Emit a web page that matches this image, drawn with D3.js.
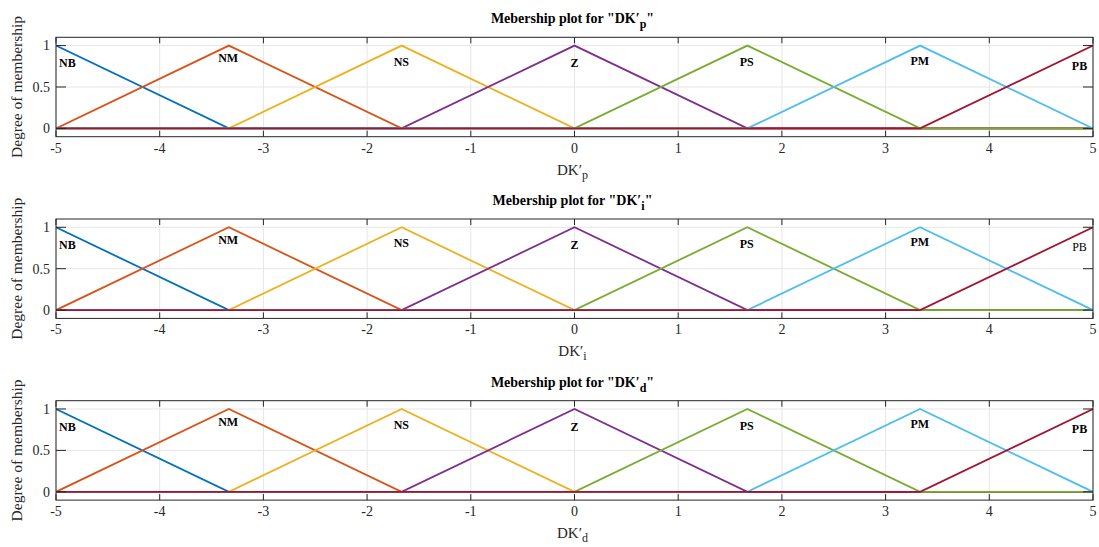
<!DOCTYPE html>
<html>
<head>
<meta charset="utf-8">
<script src="https://cdn.jsdelivr.net/npm/d3@7"></script>
<style>
  body { margin: 0; background: #fff; }
  svg text { font-family: "Palatino Linotype", Palatino, "Liberation Serif", serif; fill: #262626; }
</style>
</head>
<body>
<svg id="chart" width="1099" height="547"></svg>
<script>
// membership function data
var mfNames = ["NB", "NM", "NS", "Z", "PS", "PM", "PB"];
var mfParams = [
  [-6.667, -5, -3.333],
  [-5, -3.333, -1.667],
  [-3.333, -1.667, 0],
  [-1.667, 0, 1.667],
  [0, 1.667, 3.333],
  [1.667, 3.333, 5],
  [3.333, 5, 6.667]
];
var mfColors = ["#0072BD", "#D95319", "#EDB120", "#7E2F8E", "#77AC30", "#4DBEEE", "#A2142F"];
var labelX = [-4.89, -3.34, -1.67, 0, 1.66, 3.33, 4.87];
var labelY = [0.79, 0.85, 0.81, 0.79, 0.80, 0.82, 0.76];
var panelSubs = ["p", "i", "d"];
var pbBold = [true, false, true];
var xTicks = [-5, -4, -3, -2, -1, 0, 1, 2, 3, 4, 5];
var yTicks = [0, 0.5, 1];
var xRange = [-5, 5];
var yRange = [-0.1, 1.1];

var svg = d3.select("#chart");
var left = 56, right = 1093, panelH = 99.4;
var tops = [37.3, 219, 400.7];

var x = d3.scaleLinear().domain(xRange).range([left, right]);

function trimf(v, p) {
  var a = p[0], b = p[1], c = p[2];
  if (v <= a || v >= c) return v === b ? 1 : 0;
  if (v <= b) return (v - a) / (b - a);
  return (c - v) / (c - b);
}

panelSubs.forEach(function(sub, pi) {
  var top = tops[pi];
  var y = d3.scaleLinear().domain(yRange).range([top + panelH, top]);
  var g = svg.append("g");

  g.append("clipPath").attr("id", "clip" + pi)
    .append("rect").attr("x", left).attr("y", top).attr("width", right - left).attr("height", panelH);

  // grid
  g.append("g").selectAll("line").data(xTicks).enter().append("line")
    .attr("x1", d => x(d)).attr("x2", d => x(d))
    .attr("y1", top).attr("y2", top + panelH)
    .attr("stroke", "#e6e6e6").attr("stroke-width", 1);
  g.append("g").selectAll("line").data(yTicks).enter().append("line")
    .attr("x1", left).attr("x2", right)
    .attr("y1", d => y(d)).attr("y2", d => y(d))
    .attr("stroke", "#e6e6e6").attr("stroke-width", 1);

  // membership lines
  var line = d3.line().x(d => x(d[0])).y(d => y(d[1]));
  var lines = g.append("g").attr("clip-path", "url(#clip" + pi + ")");
  mfParams.forEach(function(p, i) {
    var pts = [xRange[0], p[0], p[1], p[2], xRange[1]]
      .filter(v => v >= xRange[0] && v <= xRange[1])
      .sort((a, b) => a - b)
      .map(v => [v, trimf(v, p)]);
    lines.append("path").datum(pts)
      .attr("d", line)
      .attr("fill", "none")
      .attr("stroke", mfColors[i])
      .attr("stroke-width", 1.8);
  });

  // labels
  g.append("g").selectAll("text").data(mfNames).enter().append("text")
    .attr("x", (d, i) => x(labelX[i]))
    .attr("y", (d, i) => y(labelY[i]))
    .attr("dy", "0.35em")
    .attr("text-anchor", "middle")
    .attr("font-size", 12)
    .attr("font-weight", (d, i) => (d === "PB" && !pbBold[pi]) ? "normal" : "bold")
    .style("fill", "#000")
    .text(d => d);

  // axes (ticks inside, box)
  var axG = g.append("g").attr("stroke", "#262626").attr("fill", "none").attr("stroke-width", 1);
  axG.append("rect").attr("x", left).attr("y", top).attr("width", right - left).attr("height", panelH);
  xTicks.forEach(function(t) {
    axG.append("line").attr("x1", x(t)).attr("x2", x(t)).attr("y1", top + panelH).attr("y2", top + panelH - 6);
    axG.append("line").attr("x1", x(t)).attr("x2", x(t)).attr("y1", top).attr("y2", top + 6);
  });
  yTicks.forEach(function(t) {
    axG.append("line").attr("x1", left).attr("x2", left + 10).attr("y1", y(t)).attr("y2", y(t));
    axG.append("line").attr("x1", right).attr("x2", right - 10).attr("y1", y(t)).attr("y2", y(t));
  });

  g.append("g").selectAll("text").data(xTicks).enter().append("text")
    .attr("x", d => x(d)).attr("y", top + panelH + 16)
    .attr("text-anchor", "middle").attr("font-size", 14)
    .text(d => d3.format("")(d).replace("−", "-"));
  g.append("g").selectAll("text").data(yTicks).enter().append("text")
    .attr("x", left - 6).attr("y", d => y(d)).attr("dy", "0.35em")
    .attr("text-anchor", "end").attr("font-size", 14)
    .text(d => d);

  // y label
  g.append("text")
    .attr("transform", "translate(22," + (top + panelH / 2) + ") rotate(-90)")
    .attr("text-anchor", "middle").attr("font-size", 15.5)
    .text("Degree of membership");

  // x label
  var xl = g.append("text")
    .attr("x", (left + right) / 2 - 2).attr("y", top + panelH + 38)
    .attr("text-anchor", "middle").attr("font-size", 15);
  xl.append("tspan").text("DK\u2032");
  xl.append("tspan").attr("dy", 4).attr("font-size", 12).text(sub);

  // title
  var tt = g.append("text")
    .attr("x", (left + right) / 2 - 2).attr("y", top - 14)
    .attr("text-anchor", "middle").attr("font-size", 14).attr("font-weight", "bold")
    .style("fill", "#000");
  tt.append("tspan").text("Mebership plot for \"DK\u2032");
  tt.append("tspan").attr("dy", 5).attr("font-size", 12).text(sub);
  tt.append("tspan").attr("dy", -5).text("\"");
});
</script>
</body>
</html>
